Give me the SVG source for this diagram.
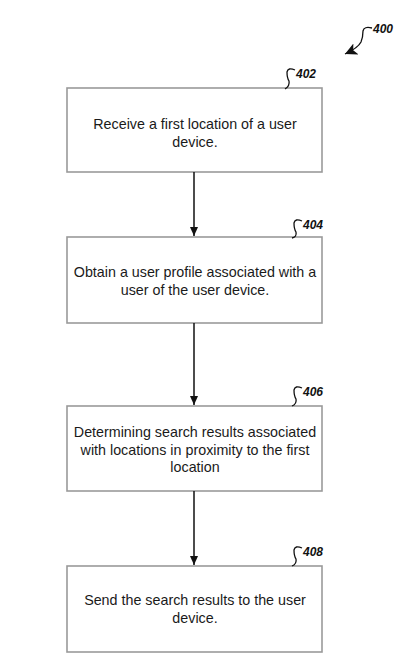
<svg xmlns="http://www.w3.org/2000/svg" width="401" height="668" viewBox="0 0 401 668">
<style>
.box{fill:#fff;stroke:#9a9a9a;stroke-width:1.6}
.t{font-family:"Liberation Sans",Arial,sans-serif;font-size:14.3px;fill:#1a1a1a;text-anchor:middle}
.ref{font-family:"Liberation Sans",Arial,sans-serif;font-size:12px;font-weight:bold;font-style:italic;fill:#111}
.lead{fill:none;stroke:#111;stroke-width:1.3}
.conn{stroke:#111;stroke-width:1.5;fill:none}
</style>
<defs>
<marker id="ah" markerWidth="10" markerHeight="10" refX="9" refY="5" orient="auto" markerUnits="userSpaceOnUse">
<path d="M0,1 L9,5 L0,9 z" fill="#111"/>
</marker>
<marker id="ah2" markerWidth="14" markerHeight="14" refX="12" refY="6" orient="auto" markerUnits="userSpaceOnUse">
<path d="M0,0 L12,6 L0,12 L3,6 z" fill="#111"/>
</marker>
</defs>
<rect width="401" height="668" fill="#fff"/>
<g id="ref400">
<text class="ref" x="373" y="33">400</text>
<path class="lead" d="M372,28 Q364,26 363,31 Q363,37 361,42 Q358,48 345,54" marker-end="url(#ah2)"/>
</g>
<g id="n402">
<rect class="box" x="67" y="88" width="255" height="84"/>
<text class="t" x="195" y="129">Receive a first location of a user</text>
<text class="t" x="195" y="147">device.</text>
<path class="lead" d="M295,70 Q288,67 287,72 Q287,78 289,81 Q290,86 285,89"/>
<text class="ref" x="296" y="78">402</text>
</g>
<g id="n404">
<rect class="box" x="67" y="237" width="255" height="86"/>
<text class="t" x="195" y="277">Obtain a user profile associated with a</text>
<text class="t" x="195" y="295">user of the user device.</text>
<path class="lead" d="M302,221 Q295,218 294,223 Q294,229 296,232 Q297,237 292,238"/>
<text class="ref" x="303" y="229">404</text>
</g>
<g id="n406">
<rect class="box" x="67" y="406" width="255" height="85"/>
<text class="t" x="195" y="437">Determining search results associated</text>
<text class="t" x="195" y="455">with locations in proximity to the first</text>
<text class="t" x="195" y="472">location</text>
<path class="lead" d="M302,388 Q295,385 294,390 Q294,396 296,399 Q297,404 292,406"/>
<text class="ref" x="303" y="396">406</text>
</g>
<g id="n408">
<rect class="box" x="67" y="566" width="255" height="86"/>
<text class="t" x="195" y="605">Send the search results to the user</text>
<text class="t" x="195" y="623">device.</text>
<path class="lead" d="M302,548 Q295,545 294,550 Q294,556 296,559 Q297,564 292,566"/>
<text class="ref" x="303" y="556">408</text>
</g>
<g id="connectors">
<line class="conn" x1="194" y1="172" x2="194" y2="236" marker-end="url(#ah)"/>
<line class="conn" x1="194" y1="323" x2="194" y2="405" marker-end="url(#ah)"/>
<line class="conn" x1="194" y1="491" x2="194" y2="565" marker-end="url(#ah)"/>
</g>
</svg>
